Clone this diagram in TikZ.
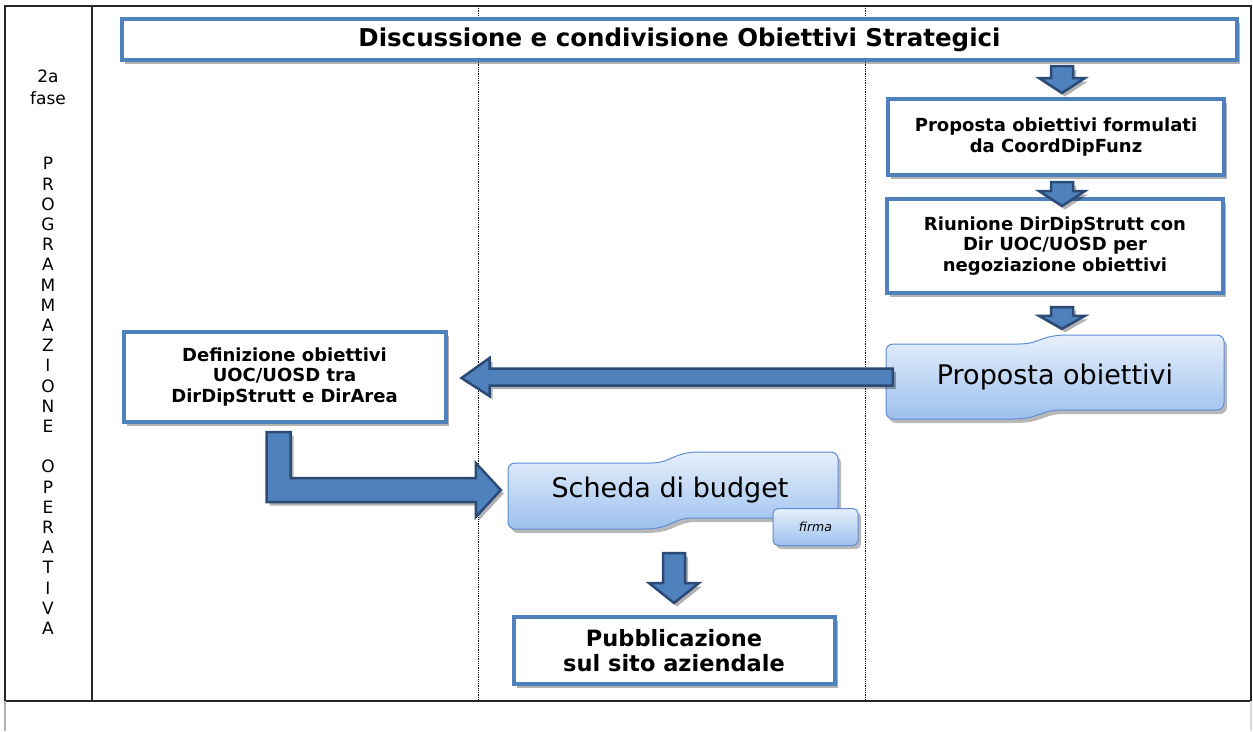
\documentclass[tikz,border=0pt]{standalone}
\usepackage{fontspec}
\setmainfont{DejaVu Sans}
\usetikzlibrary{calc,shadows}
\definecolor{boxblue}{HTML}{4F81BD}
\definecolor{arrdark}{HTML}{2B4B76}
\definecolor{wavetop}{HTML}{E6EFFB}
\definecolor{wavebot}{HTML}{9DC1EE}
\definecolor{waveline}{HTML}{5F8ED2}
\tikzset{
  myshadow/.style={drop shadow={shadow xshift=3pt,shadow yshift=-3.5pt,opacity=.3,fill=black}},
  box/.style={draw=boxblue, line width=4pt, fill=white, align=center, inner sep=0pt, myshadow},
  boxtext/.style={font=\bfseries\fontsize{18}{20.5}\selectfont},
  blockarrow/.style={fill=boxblue, draw=arrdark, line width=2.5pt, line join=miter, myshadow},
  wave/.style={draw=waveline, line width=1pt, top color=wavetop, bottom color=wavebot},
  waveshadow/.style={fill=black, opacity=.28, xshift=3pt, yshift=-4pt},
  framel/.style={draw=black!85, line width=1.6pt},
  lane/.style={draw=black, line width=0.8pt, densely dotted},
  sidetext/.style={font=\fontsize{17}{20.2}\selectfont, align=center, inner sep=0pt},
}
% wave path: x0 x1 ytop ybottom amplitude xmid
\newcommand{\wavepath}[6]{[rounded corners=7pt] (#1,{#4+#5}) -- (#1,{#3+#5}) -- ({#6-28},{#3+#5}) [sharp corners] .. controls (#6,{#3+#5}) and (#6,#3) .. ({#6+28},#3) [rounded corners=7pt] -- (#2,#3) -- (#2,#4) -- ({#6+28},#4) [sharp corners] .. controls (#6,#4) and (#6,{#4+#5}) .. ({#6-28},{#4+#5}) [rounded corners=7pt] -- cycle}
% down block arrow: start, tip, shaft half width, head half width, head length
\newcommand{\downblock}[5]{\path[blockarrow] let \p1=(#1), \p2=(#2) in
  (\x1-#3,\y1) -- (\x1+#3,\y1) -- (\x1+#3,\y2+#5) -- (\x1+#4,\y2+#5) -- (\x1,\y2)
  -- (\x1-#4,\y2+#5) -- (\x1-#3,\y2+#5) -- cycle;}
\begin{document}
\begin{tikzpicture}[x=1pt,y=-1pt]
\useasboundingbox (0,0) rectangle (1253,731);
\fill[white] (0,0) rectangle (1253,731);
% frame and lanes
\draw[framel] (5,6) rectangle (1251,701);
\draw[framel] (92,6) -- (92,701);
\draw[lane] (478,6) -- (478,701);
\draw[lane] (865,6) -- (865,701);
\draw[black!30, line width=1.2pt] (5,701) -- (5,731);
\draw[black!15, line width=1.2pt] (1251,701) -- (1251,731);
% side texts
\node[sidetext] (phase) at (48,87) {2a\\[2pt]fase};
\node[sidetext] (prog) at (48,396) {P\\R\\O\\G\\R\\A\\M\\M\\A\\Z\\I\\O\\N\\E\\[20.2pt]O\\P\\E\\R\\A\\T\\I\\V\\A};
% boxes
\node[box, minimum width=1115pt, minimum height=41pt, font=\bfseries\fontsize{24.5}{28}\selectfont] (title) at (679.5,39.5) {Discussione e condivisione Obiettivi Strategici};
\node[box, boxtext, minimum width=336pt, minimum height=76pt] (prop) at (1056,137) {Proposta obiettivi formulati\\da CoordDipFunz};
\node[box, boxtext, minimum width=336pt, minimum height=94pt] (riun) at (1055,246) {Riunione DirDipStrutt con\\Dir UOC/UOSD per\\negoziazione obiettivi};
\node[box, boxtext, minimum width=322pt, minimum height=90pt] (def) at (284.5,377) {Definizione obiettivi\\UOC/UOSD tra\\DirDipStrutt e DirArea};
\node[box, minimum width=321pt, minimum height=67pt, font=\bfseries\fontsize{22.5}{25}\selectfont] (pubb) at (674,650.5) {Pubblicazione\\sul sito aziendale};
% wave shapes
\fill[waveshadow] \wavepath{886}{1224}{335}{410}{9}{1040};
\draw[wave] \wavepath{886}{1224}{335}{410}{9}{1040};
\node[font=\fontsize{27}{30}\selectfont, minimum width=338pt, minimum height=84pt, inner sep=0pt] (propob) at (1055,377) {Proposta obiettivi};
\fill[waveshadow] \wavepath{508}{838}{452}{518}{11}{672};
\draw[wave] \wavepath{508}{838}{452}{518}{11}{672};
\node[font=\fontsize{27}{30}\selectfont, minimum width=330pt, minimum height=78pt, inner sep=0pt] (scheda) at (670,490) {Scheda di budget};
\fill[black, opacity=.28, rounded corners=5pt] (776,512) rectangle (861,549);
\node[wave, rounded corners=5pt, minimum width=85pt, minimum height=37pt, inner sep=0pt, font=\itshape\fontsize{12.5}{14}\selectfont] (firma) at (815.5,527) {firma};
% connector coordinates
\coordinate (a1s) at ($(title.south)+(382.5,4)$);
\coordinate (a1t) at ($(prop.north)+(6,-4)$);
\coordinate (a2s) at ($(prop.south)+(6,5)$);
\coordinate (a2t) at ($(riun.north)+(7,9)$);
\coordinate (a3s) at ($(riun.south)+(7,12)$);
\coordinate (a3t) at ($(propob.north)+(7,-6)$);
\coordinate (a4s) at ($(scheda.south)+(4,24)$);
\coordinate (a4t) at ($(pubb.north)+(0,-12)$);
\coordinate (ls) at ($(propob.west)+(7,0)$);
\coordinate (lt) at ($(def.east)+(14,1)$);
\coordinate (es) at ($(def.south)+(-6,8)$);
\coordinate (et) at ($(scheda.west)+(-4,0)$);
% block arrows
\downblock{a1s}{a1t}{11pt}{23pt}{15pt}
\downblock{a2s}{a2t}{11pt}{23pt}{15pt}
\downblock{a3s}{a3t}{11pt}{23pt}{13pt}
\downblock{a4s}{a4t}{11pt}{25pt}{20pt}
\path[blockarrow] let \p1=(ls), \p2=(lt) in
  (\x1,\y1+8.5pt) -- (\x2+28pt,\y1+8.5pt) -- (\x2+28pt,\y1+19pt) -- (\x2,\y2)
  -- (\x2+28pt,\y1-19pt) -- (\x2+28pt,\y1-8.5pt) -- (\x1,\y1-8.5pt) -- cycle;
\path[blockarrow] let \p1=(es), \p2=(et) in
  (\x1-12pt,\y1) -- (\x1+12pt,\y1) -- (\x1+12pt,\y2+12pt) -- (\x2-25pt,\y2+12pt)
  -- (\x2-25pt,\y2+27pt) -- (\x2,\y2) -- (\x2-25pt,\y2-27pt) -- (\x2-25pt,\y2-12pt)
  -- (\x1-12pt,\y2-12pt) -- cycle;
\end{tikzpicture}
\end{document}
